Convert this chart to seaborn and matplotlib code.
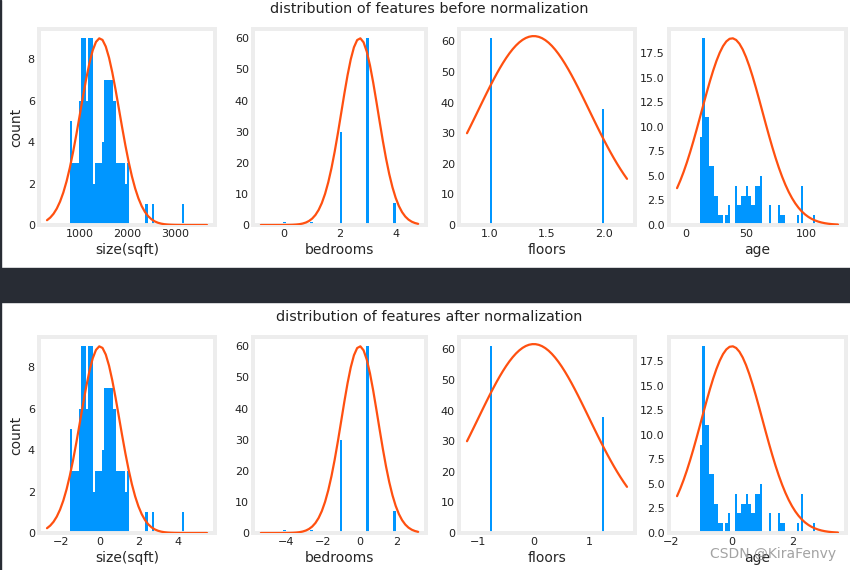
import numpy as np
import matplotlib
matplotlib.use("Agg")
import matplotlib.pyplot as plt
import seaborn as sns
from matplotlib.patches import Rectangle

# features of the housing data
features = ["size(sqft)", "bedrooms", "floors", "age"]
feat_min = [785, 0, 1, 12]
feat_max = [3195, 4, 2, 107]
feat_mu = [1418, 2.72, 1.384, 38.4]
feat_sigma = [412, 0.652, 0.486, 25.2]

# counts per histogram bin (50 bins between min and max)
size_counts = [5, 3, 3, 3, 6, 9, 9, 6, 9, 9, 2, 3, 3, 3, 4, 7, 7, 7, 7, 6, 3, 3, 3, 3, 2, 3,
               0, 0, 0, 0, 0, 0, 0, 1, 0, 0, 1, 0, 0, 0, 0, 0, 0, 0, 0, 0, 0, 0, 0, 1]
age_counts = [9, 19, 11, 11, 6, 6, 3, 3, 1, 1, 0, 1, 2, 0, 0, 4, 2, 2, 3, 3, 4, 3, 2, 2, 4,
              4, 5, 0, 0, 0, 2, 0, 0, 0, 2, 1, 1, 0, 0, 0, 0, 0, 1, 0, 4, 0, 0, 0, 0, 1]
# discrete features: values and how many houses have them
bedroom_values = [0, 1, 2, 3, 4]
bedroom_counts = [1, 1, 30, 60, 7]
floor_values = [1, 2]
floor_counts = [61, 38]

blue = "#0096ff"
orange = "#ff5010"

sns.set_style("white")
plt.rcParams["font.family"] = ["DejaVu Sans"]
plt.rcParams["xtick.major.size"] = 0
plt.rcParams["ytick.major.size"] = 0
plt.rcParams["xtick.major.pad"] = 3
plt.rcParams["ytick.major.pad"] = 3
plt.rcParams["xtick.labelsize"] = 8
plt.rcParams["ytick.labelsize"] = 8
plt.rcParams["text.color"] = "#222222"
plt.rcParams["xtick.color"] = "#222222"
plt.rcParams["ytick.color"] = "#222222"

W, H = 850, 570
fig = plt.figure(figsize=(W / 100, H / 100), dpi=100)


def px_axes(left, top, right, bottom):
    return fig.add_axes([left / W, 1 - bottom / H, (right - left) / W, (bottom - top) / H])


def feature_data(i):
    if i == 0:
        edges = np.linspace(feat_min[0], feat_max[0], 51)
        return (edges[:-1] + edges[1:]) / 2, size_counts
    if i == 3:
        edges = np.linspace(feat_min[3], feat_max[3], 51)
        return (edges[:-1] + edges[1:]) / 2, age_counts
    if i == 1:
        return np.array(bedroom_values, float), bedroom_counts
    return np.array(floor_values, float), floor_counts


col_x = [(39, 215), (253, 426), (459, 635), (669, 846)]


def draw_row(top, bottom, normalized, title, title_y):
    for i, (l, r) in enumerate(col_x):
        ax = px_axes(l, top, r, bottom)
        vals, counts = feature_data(i)
        lo, hi = feat_min[i], feat_max[i]
        mu, sd = feat_mu[i], feat_sigma[i]
        if normalized:
            vals = (vals - mu) / sd
            lo, hi = (lo - mu) / sd, (hi - mu) / sd
            mu, sd = 0.0, 1.0
        sns.histplot(x=vals, weights=counts, bins=50, binrange=(lo, hi), color=blue,
                     alpha=1, linewidth=0, ax=ax)
        scale = (hi - lo) * 0.2
        xs = np.linspace(lo - scale, hi + scale, 50)
        pdf = np.exp(-0.5 * ((xs - mu) / sd) ** 2) / (sd * np.sqrt(2 * np.pi))
        axr = ax.twinx()
        sns.lineplot(x=xs, y=pdf, color=orange, linewidth=1.6, ax=axr)
        axr.set_ylim(bottom=0)
        axr.axis("off")
        ax.set_xlabel(features[i], fontsize=10, labelpad=2.5)
        ax.set_ylabel("count" if i == 0 else "", fontsize=10, labelpad=3)
        ax.grid(False)
        for s in ax.spines.values():
            s.set_color("#ededed")
            s.set_linewidth(2.8)
    fig.text(429 / W, 1 - title_y / H, title, ha="center", va="center", fontsize=10.4)


draw_row(29, 225, False, "distribution of features before normalization", 9)
draw_row(337, 533, True, "distribution of features after normalization", 317)

# dark separator band and left border of the screenshot
fig.patches.append(Rectangle((0, 1 - 302 / H), 1, 34 / H, transform=fig.transFigure,
                             color="#282c34", zorder=0))
fig.patches.append(Rectangle((0, 0), 1.2 / W, 1, transform=fig.transFigure,
                             color="#282c34", zorder=0))

fig.text(836 / W, 1 - 554 / H, "CSDN @KiraFenvy", ha="right", va="center",
         fontsize=10, color="#8c8c8c", alpha=0.8)

fig.savefig("out.png", dpi=100)
